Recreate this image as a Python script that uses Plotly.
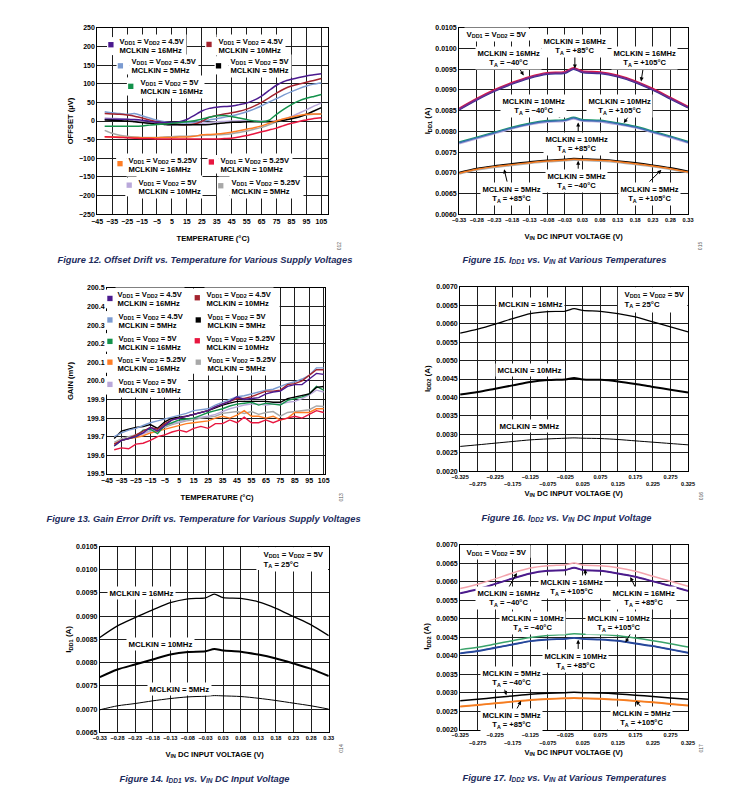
import plotly.graph_objects as go

W, H = 750, 809          # page size
PAD = 8                  # default body margin of the html page
FW, FH = W - 2 * PAD, H - 2 * PAD
FONT = "Liberation Sans, Arial, sans-serif"
NAVY = "#1c2b5c"

# ------------------------------------------------------------------ DATA
temp_c = [-40, -35, -30, -25, -20, -15, -10, -5, 0, 5, 10, 15, 20, 25, 30,
          35, 40, 45, 50, 55, 60, 65, 70, 75, 80, 85, 90, 95, 100, 105]
temp_ticks = [-45, -35, -25, -15, -5, 5, 15, 25, 35, 45, 55, 65, 75, 85, 95, 105]

# Figure 12 : offset (uV)
off_45_16 = [5, 5, 5, 5, 4, 2, -1, -3, -4, -4, -2, 4, 15, 27, 34, 37, 39, 40, 44, 48, 56, 67, 82, 96, 106, 112, 117, 121, 124, 127]
off_45_10 = [20, 19, 18, 16, 13, 8, 3, -2, -5, -7, -9, -10, -8, -1, 10, 15, 19, 22, 26, 32, 40, 50, 62, 75, 86, 94, 99, 104, 109, 114]
off_45_5 = [25, 22, 20, 18, 20, 14, 8, 2, -2, -5, -5, -5, -3, -1, 3, 6, 10, 14, 19, 25, 32, 41, 51, 60, 70, 79, 87, 94, 99, 102]
off_5_5 = [3, 2, 1, 0, -2, -4, -6, -8, -9, -10, -10, -10, -10, -10, -9, -7, -5, -3, -3, -2, -2, -2, -2, -1, 2, 6, 11, 18, 27, 36]
off_5_16 = [-14, -14, -14, -14, -14, -13, -11, -9, -8, -6, -4, -2, 1, 5, 10, 14, 15, 12, 8, 4, 0, -2, 2, 18, 32, 44, 54, 61, 66, 71]
off_5_10 = [8, 7, 6, 5, 2, -2, -5, -8, -9, -10, -10, -9, -8, -6, -4, -2, -1, 0, 1, 1, 1, 0, 0, 1, 5, 12, 21, 30, 40, 48]
off_525_5 = [-25, -33, -38, -41, -43, -44, -44, -44, -43, -42, -41, -41, -40, -39, -38, -37, -36, -34, -31, -27, -22, -17, -10, -3, 3, 8, 13, 16, 18, 19]
off_525_16 = [-42, -43, -43, -44, -44, -45, -45, -45, -44, -44, -43, -43, -41, -37, -36, -35, -33, -30, -26, -22, -18, -13, -6, 0, 6, 11, 15, 18, 19, 19]
off_525_10 = [-42, -43, -44, -45, -46, -47, -47, -48, -48, -48, -48, -48, -48, -48, -48, -48, -47, -46, -43, -39, -34, -29, -24, -19, -12, -6, -1, 3, 7, 9]

# Figure 13 : gain (mV)
gain_45_16 = [199.65, 199.68, 199.69, 199.70, 199.72, 199.75, 199.73, 199.76, 199.79, 199.80, 199.81, 199.82, 199.83, 199.84, 199.86, 199.875, 199.89, 199.915, 199.90, 199.905, 199.91, 199.93, 199.94, 199.945, 199.97, 199.98, 199.98, 200.01, 200.04, 200.035]
gain_45_10 = [199.66, 199.68, 199.69, 199.71, 199.73, 199.75, 199.74, 199.77, 199.79, 199.80, 199.81, 199.82, 199.83, 199.84, 199.86, 199.875, 199.89, 199.905, 199.905, 199.915, 199.93, 199.945, 199.945, 199.95, 199.98, 199.985, 200.00, 200.03, 200.06, 200.06]
gain_45_5 = [199.70, 199.72, 199.735, 199.745, 199.76, 199.775, 199.785, 199.795, 199.805, 199.815, 199.825, 199.84, 199.845, 199.85, 199.87, 199.885, 199.90, 199.915, 199.92, 199.93, 199.94, 199.95, 199.955, 199.97, 199.985, 199.995, 200.01, 200.03, 200.07, 200.07]
gain_5_5 = [199.69, 199.73, 199.74, 199.75, 199.755, 199.765, 199.745, 199.78, 199.80, 199.805, 199.81, 199.82, 199.83, 199.84, 199.855, 199.87, 199.88, 199.89, 199.89, 199.89, 199.89, 199.89, 199.885, 199.885, 199.905, 199.914, 199.92, 199.93, 199.965, 199.97]
gain_5_16 = [199.65, 199.68, 199.69, 199.70, 199.735, 199.74, 199.717, 199.76, 199.775, 199.79, 199.795, 199.80, 199.815, 199.83, 199.84, 199.85, 199.865, 199.875, 199.88, 199.885, 199.87, 199.88, 199.875, 199.87, 199.895, 199.905, 199.914, 199.93, 199.97, 199.95]
gain_5_10 = [199.66, 199.68, 199.69, 199.70, 199.715, 199.73, 199.745, 199.76, 199.77, 199.78, 199.79, 199.80, 199.805, 199.81, 199.82, 199.835, 199.85, 199.86, 199.87, 199.875, 199.875, 199.87, 199.875, 199.875, 199.885, 199.89, 199.905, 199.925, 199.95, 199.94]
gain_525_16 = [199.66, 199.68, 199.69, 199.695, 199.705, 199.72, 199.73, 199.74, 199.75, 199.76, 199.77, 199.775, 199.78, 199.785, 199.80, 199.81, 199.80, 199.816, 199.84, 199.81, 199.81, 199.80, 199.81, 199.79, 199.80, 199.83, 199.83, 199.83, 199.85, 199.85]
gain_525_5 = [199.67, 199.69, 199.70, 199.71, 199.72, 199.73, 199.74, 199.75, 199.765, 199.775, 199.785, 199.79, 199.80, 199.805, 199.81, 199.825, 199.83, 199.835, 199.825, 199.835, 199.82, 199.83, 199.835, 199.81, 199.83, 199.835, 199.84, 199.845, 199.865, 199.862]
gain_525_10 = [199.63, 199.64, 199.635, 199.66, 199.665, 199.68, 199.70, 199.71, 199.725, 199.735, 199.725, 199.745, 199.755, 199.745, 199.77, 199.77, 199.79, 199.775, 199.805, 199.775, 199.775, 199.79, 199.775, 199.79, 199.80, 199.81, 199.80, 199.82, 199.84, 199.83]

# Input-voltage sweeps
vin_a = [-0.33, -0.2792, -0.2285, -0.1777, -0.1269, -0.0762, -0.0254, 0.0, 0.0254, 0.0762, 0.1269, 0.1777, 0.2285, 0.2792, 0.33]
vin_a_ticks = [-0.33, -0.2792, -0.2285, -0.1777, -0.1269, -0.0762, -0.0254, 0.0254, 0.0762, 0.1269, 0.1777, 0.2285, 0.2792, 0.33]
vin_a_labels = ["−0.33", "−0.28", "−0.23", "−0.18", "−0.13", "−0.08", "−0.03", "0.03", "0.08", "0.13", "0.18", "0.23", "0.28", "0.33"]
vin_b = [-0.325, -0.275, -0.225, -0.175, -0.125, -0.075, -0.025, 0.0, 0.025, 0.075, 0.125, 0.175, 0.225, 0.275, 0.325]
vin_b_ticks = [-0.325, -0.275, -0.225, -0.175, -0.125, -0.075, -0.025, 0.025, 0.075, 0.125, 0.175, 0.225, 0.275, 0.325]
vin_b_labels = ["−0.325", "−0.275", "−0.225", "−0.175", "−0.125", "−0.075", "−0.025", "0.025", "0.075", "0.125", "0.175", "0.225", "0.275", "0.325"]

# Figure 15 : IDD1 (A) at temperatures
i1_16_m40 = [0.008560, 0.008796, 0.009005, 0.009179, 0.009323, 0.009419, 0.009443, 0.009538, 0.009459, 0.009435, 0.009355, 0.009220, 0.009036, 0.008820, 0.008605]
i1_16_p85 = [0.008540, 0.008776, 0.008985, 0.009159, 0.009303, 0.009399, 0.009423, 0.009518, 0.009439, 0.009415, 0.009335, 0.009200, 0.009016, 0.008800, 0.008585]
i1_16_p105 = [0.008522, 0.008757, 0.008966, 0.009141, 0.009284, 0.009380, 0.009404, 0.009499, 0.009420, 0.009396, 0.009316, 0.009181, 0.008997, 0.008781, 0.008566]
i1_10_m40 = [0.007741, 0.007862, 0.007981, 0.008101, 0.008196, 0.008261, 0.008284, 0.008340, 0.008287, 0.008268, 0.008205, 0.008124, 0.008006, 0.007885, 0.007758]
i1_10_p85 = [0.007723, 0.007843, 0.007963, 0.008082, 0.008178, 0.008242, 0.008266, 0.008322, 0.008268, 0.008250, 0.008186, 0.008106, 0.007987, 0.007867, 0.007739]
i1_10_p105 = [0.007702, 0.007822, 0.007943, 0.008061, 0.008158, 0.008221, 0.008246, 0.008301, 0.008248, 0.008229, 0.008166, 0.008085, 0.007967, 0.007846, 0.007719]
i1_5_m40 = [0.007007, 0.007104, 0.007167, 0.007216, 0.007263, 0.007304, 0.007327, 0.007344, 0.007335, 0.007319, 0.007287, 0.007240, 0.007183, 0.007119, 0.007039]
i1_5_p85 = [0.006989, 0.007085, 0.007149, 0.007197, 0.007245, 0.007285, 0.007309, 0.007325, 0.007317, 0.007300, 0.007269, 0.007221, 0.007165, 0.007100, 0.007021]
i1_5_p105 = [0.006970, 0.007066, 0.007129, 0.007178, 0.007226, 0.007265, 0.007290, 0.007305, 0.007298, 0.007280, 0.007250, 0.007201, 0.007146, 0.007080, 0.007002]

# Figure 14 : IDD1 (A) at 25 C
i1_16 = [0.008543, 0.008792, 0.008970, 0.009134, 0.009290, 0.009375, 0.009396, 0.009475, 0.009400, 0.009385, 0.009310, 0.009170, 0.008990, 0.008814, 0.008580]
i1_10 = [0.007689, 0.007853, 0.007960, 0.008067, 0.008173, 0.008229, 0.008244, 0.008293, 0.008259, 0.008236, 0.008173, 0.008088, 0.007981, 0.007866, 0.007710]
i1_5 = [0.006984, 0.007070, 0.007119, 0.007177, 0.007226, 0.007262, 0.007277, 0.007290, 0.007284, 0.007270, 0.007233, 0.007184, 0.007127, 0.007070, 0.006999]

# Figure 16 : IDD2 (A) at 25 C
i2_16 = [0.005745, 0.005852, 0.005987, 0.006140, 0.006274, 0.006328, 0.006344, 0.006409, 0.006360, 0.006336, 0.006274, 0.006183, 0.006048, 0.005914, 0.005780]
i2_10 = [0.004078, 0.004150, 0.004239, 0.004328, 0.004419, 0.004473, 0.004489, 0.004527, 0.004489, 0.004480, 0.004435, 0.004366, 0.004285, 0.004212, 0.004132]
i2_5 = [0.002672, 0.002715, 0.002761, 0.002806, 0.002850, 0.002876, 0.002895, 0.002904, 0.002895, 0.002886, 0.002860, 0.002823, 0.002787, 0.002751, 0.002715]

# Figure 17 : IDD2 (A) at temperatures
i2_16_m40 = [0.005812, 0.005930, 0.006072, 0.006233, 0.006366, 0.006428, 0.006455, 0.006500, 0.006446, 0.006428, 0.006375, 0.006278, 0.006144, 0.006010, 0.005876]
i2_16_p85 = [0.005678, 0.005785, 0.005930, 0.006080, 0.006214, 0.006286, 0.006305, 0.006366, 0.006305, 0.006286, 0.006214, 0.006125, 0.006000, 0.005876, 0.005742]
i2_16_p105 = [0.005690, 0.005797, 0.005942, 0.006092, 0.006226, 0.006298, 0.006317, 0.006378, 0.006317, 0.006298, 0.006226, 0.006137, 0.006012, 0.005888, 0.005754]
i2_10_m40 = [0.004161, 0.004223, 0.004312, 0.004403, 0.004491, 0.004545, 0.004572, 0.004590, 0.004580, 0.004572, 0.004536, 0.004473, 0.004403, 0.004322, 0.004232]
i2_10_p85 = [0.004054, 0.004116, 0.004205, 0.004295, 0.004384, 0.004430, 0.004446, 0.004473, 0.004446, 0.004430, 0.004393, 0.004322, 0.004250, 0.004161, 0.004071]
i2_10_p105 = [0.004066, 0.004128, 0.004217, 0.004307, 0.004396, 0.004442, 0.004458, 0.004485, 0.004458, 0.004442, 0.004405, 0.004334, 0.004262, 0.004173, 0.004083]
i2_5_m40 = [0.002777, 0.002822, 0.002865, 0.002911, 0.002956, 0.002983, 0.002999, 0.003008, 0.002999, 0.002990, 0.002965, 0.002930, 0.002893, 0.002857, 0.002822]
i2_5_p85 = [0.002616, 0.002661, 0.002705, 0.002750, 0.002795, 0.002822, 0.002839, 0.002848, 0.002839, 0.002830, 0.002804, 0.002768, 0.002732, 0.002688, 0.002643]
i2_5_p105 = [0.002628, 0.002673, 0.002717, 0.002762, 0.002807, 0.002834, 0.002851, 0.002860, 0.002851, 0.002842, 0.002816, 0.002780, 0.002744, 0.002700, 0.002655]

# ------------------------------------------------------------------ STYLE
C_PURPLE = "#4b1a8f"
C_DRED = "#a3232e"
C_LBLUE = "#7b9bd1"
C_BLACK = "#000000"
C_GREEN = "#13924b"
C_ORANGE = "#ff7d24"
C_RED = "#e8163f"
C_LAV = "#b9a8da"
C_GRAY = "#a8a8a8"

# pixel boxes (left, right, top, bottom) of the six plot areas, page coords
BOX = {
    1: (90, 326, 24, 212),           # fig 12
    2: (460, 694, 24, 212),          # fig 15
    3: (100, 323, 286.3, 474),       # fig 13
    4: (461, 694, 285.3, 471.3),     # fig 16
    5: (92.7, 326.7, 547.3, 734.7),  # fig 14
    6: (461, 694, 545.3, 732),       # fig 17
}


def X(p):
    return (p - PAD) / FW


def Y(p):
    return 1 - (p - PAD) / FH


def an(n):
    return "" if n == 1 else str(n)


def bfont(size, color="black", family=FONT):
    return dict(family=family, size=size, color=color, weight="bold")


fig = go.Figure()
SH_WHITE, SH_SQ, L_ARROW, L_TEXT = [], [], [], []


def axis_pair(n, xr, yr, xkw, ykw):
    L, R, T, B = BOX[n]
    common = dict(showline=True, mirror=True, linecolor="black", linewidth=1,
                  showgrid=True, gridcolor="#1e1e1e", gridwidth=1, ticks="",
                  zeroline=False, fixedrange=True)
    xa = dict(common, domain=[X(L), X(R)], range=xr, anchor="y" + an(n), **xkw)
    ya = dict(common, domain=[Y(B), Y(T)], range=yr, anchor="x" + an(n), **ykw)
    fig.layout["xaxis" + an(n)] = xa
    fig.layout["yaxis" + an(n)] = ya


def line(n, x, y, color, width=1.5, shape="linear", smooth=1.0):
    kw = dict(shape=shape)
    if shape == "spline":
        kw["smoothing"] = smooth
    fig.add_trace(go.Scatter(x=x, y=y, mode="lines", xaxis="x" + an(n), yaxis="y" + an(n),
                             line=dict(color=color, width=width, **kw), hoverinfo="skip"))


def block(x0, x1, y0, y1, color="white", dest=None):
    (SH_WHITE if dest is None else dest).append(
        dict(type="rect", xref="paper", yref="paper", x0=X(x0), x1=X(x1), y0=Y(y1), y1=Y(y0),
             fillcolor=color, line=dict(width=0), layer="above"))


def text(t, x, y, size=7.8, xanchor="left", bg=True, color="black", angle=0, align="left"):
    d = dict(text=t, x=X(x), y=Y(y), xref="paper", yref="paper", xanchor=xanchor,
             yanchor="middle", showarrow=False, font=bfont(size, color),
             borderpad=1.5, textangle=angle, align=align)
    if bg:
        d["bgcolor"] = "white"
    L_TEXT.append(d)


def legend_entry(sqx, sqy, color, tx, y1, y2, volt, clk, size=7.6):
    block(sqx - 4, tx + 1, y1 - 5, y2 + 5)
    block(sqx - 2.7, sqx + 2.7, sqy - 2.7, sqy + 2.7, color, SH_SQ)
    text("V<sub>DD1</sub> = V<sub>DD2</sub> = " + volt + "<br>MCLKIN = " + clk,
         tx, (y1 + y2) / 2 + 0.3, size)


def label2(cx, y1, y2, l1, l2, size=7.6):
    text(l1 + "<br>" + l2, cx, (y1 + y2) / 2 + 0.3, size, xanchor="center", align="center")


def arrow(tx, ty, hx, hy):
    L_ARROW.append(dict(text="", x=X(hx), y=Y(hy), xref="paper", yref="paper",
                        ax=tx - hx, ay=ty - hy, axref="pixel", ayref="pixel",
                        showarrow=True, arrowhead=2, arrowsize=0.8, arrowwidth=1,
                        arrowcolor="black", standoff=0, startstandoff=0))


TICK_Y = bfont(7)
TICK_XS = bfont(5.6)

# ------------------------------------------------------------------ FIG 12
axis_pair(1, [-45, 109.5], [-250, 250],
          dict(tickmode="array", tickvals=temp_ticks, tickfont=bfont(7), tickangle=0),
          dict(tickmode="array", tickvals=[-250, -200, -150, -100, -50, 0, 50, 100, 150, 200, 250], tickfont=TICK_Y))
for ys, c in [(off_525_5, C_GRAY), (off_5_10, C_LAV), (off_45_5, C_LBLUE), (off_45_10, C_DRED),
              (off_45_16, C_PURPLE), (off_5_5, C_BLACK), (off_5_16, C_GREEN),
              (off_525_16, C_ORANGE), (off_525_10, C_RED)]:
    line(1, temp_c, ys, c, 1.5, "spline", 0.6)
legend_entry(104, 41, C_PURPLE, 110.7, 38.3, 46.5, "4.5V", "16MHz")
legend_entry(204.3, 40.7, C_DRED, 211.7, 38.3, 46.5, "4.5V", "10MHz")
legend_entry(113.7, 62.3, C_LBLUE, 122.3, 57.7, 66, "4.5V", "5MHz")
legend_entry(214, 62.3, C_BLACK, 223.3, 57.7, 66, "5V", "5MHz")
legend_entry(124.3, 83, C_GREEN, 132, 79, 87.3, "5V", "16MHz")
legend_entry(113.3, 161, C_ORANGE, 119.3, 157.3, 166, "5.25V", "16MHz")
legend_entry(206.7, 159.3, C_RED, 213.3, 157.3, 166, "5.25V", "10MHz")
legend_entry(122.7, 182.7, C_LAV, 130, 180, 189, "5V", "10MHz")
legend_entry(216.3, 183.3, C_GRAY, 224.3, 180, 189, "5.25V", "5MHz")
text("OFFSET (µV)", 63, 118, 7.6, xanchor="center", bg=False, angle=-90)
text("TEMPERATURE (°C)", 208, 236, 7.6, xanchor="center", bg=False)

# ------------------------------------------------------------------ FIG 13
axis_pair(3, [-45, 106], [199.5, 200.5],
          dict(tickmode="array", tickvals=temp_ticks, tickfont=bfont(7), tickangle=0),
          dict(tickmode="array", tickvals=[199.5, 199.6, 199.7, 199.8, 199.9, 200.0, 200.1, 200.2, 200.3, 200.4, 200.5],
               tickformat=".1f", tickfont=TICK_Y))
block(100.8, 276.5, 287, 373)
block(100.8, 183, 372, 394)
for ys, c in [(gain_525_5, C_GRAY), (gain_5_10, C_LAV), (gain_525_16, C_ORANGE), (gain_525_10, C_RED),
              (gain_5_16, C_GREEN), (gain_5_5, C_BLACK), (gain_45_5, C_LBLUE),
              (gain_45_10, C_DRED), (gain_45_16, C_PURPLE)]:
    line(3, temp_c, ys, c, 1.4)
legend_entry(103, 297, C_PURPLE, 108.3, 293, 302, "4.5V", "16MHz")
legend_entry(192.3, 296.3, C_DRED, 199, 293, 302, "4.5V", "10MHz")
legend_entry(103, 318.7, C_LBLUE, 109.3, 314.7, 323.7, "4.5V", "5MHz")
legend_entry(193.3, 318.7, C_BLACK, 200.7, 314.7, 323.7, "5V", "5MHz")
legend_entry(103, 340.3, C_GREEN, 109.3, 337, 345.7, "5V", "16MHz")
legend_entry(192.3, 339.7, C_RED, 199, 337, 345.7, "5.25V", "10MHz")
legend_entry(103, 361.3, C_ORANGE, 107.8, 358, 367, "5.25V", "16MHz")
legend_entry(193.3, 361.3, C_GRAY, 200, 358, 367, "5.25V", "5MHz")
legend_entry(103, 383.7, C_LAV, 109, 380.3, 389, "5V", "10MHz")
text("GAIN (mV)", 62, 380, 7.6, xanchor="center", bg=False, angle=-90)
text("TEMPERATURE (°C)", 212, 497, 7.6, xanchor="center", bg=False)

# ------------------------------------------------------------------ FIG 15
y15 = [0.0060, 0.0065, 0.0070, 0.0075, 0.0080, 0.0085, 0.0090, 0.0095, 0.0100, 0.0105]
axis_pair(2, [-0.33, 0.33], [0.0060, 0.0105],
          dict(tickmode="array", tickvals=vin_a_ticks, ticktext=vin_a_labels, tickfont=TICK_XS, tickangle=0),
          dict(tickmode="array", tickvals=y15, tickformat=".4f", tickfont=TICK_Y))
block(460.8, 540, 24.8, 36.7)
for ys, c in [(i1_16_p105, "#2e3192"), (i1_16_m40, "#e3173e"), (i1_16_p85, "#7a2a8c"),
              (i1_10_p105, "#b7a9dc"), (i1_10_m40, "#1b9a6a"), (i1_10_p85, "#3b6db3"),
              (i1_5_p105, "#b0b0b0"), (i1_5_m40, "#000000"), (i1_5_p85, "#f47b20")]:
    line(2, vin_a, ys, c, 1.5, "spline", 0.8)
text("V<sub>DD1</sub> = V<sub>DD2</sub> = 5V", 465, 30.7)
label2(578.3, 38.3, 46.5, "MCLKIN = 16MHz", "T<sub>A</sub> = +85°C")
arrow(578.3, 52, 578.3, 65)
label2(510, 50, 58.3, "MCLKIN = 16MHz", "T<sub>A</sub> = −40°C")
arrow(521, 64, 526, 72)
label2(649.3, 50, 58.3, "MCLKIN = 16MHz", "T<sub>A</sub> = +105°C")
arrow(648, 65, 646, 78)
label2(536, 98.3, 106.7, "MCLKIN = 10MHz", "T<sub>A</sub> = −40°C")
arrow(556.7, 106, 563.3, 115)
label2(624, 98.3, 106.7, "MCLKIN = 10MHz", "T<sub>A</sub> = +105°C")
arrow(633.3, 113, 628.3, 120)
label2(580, 136.7, 145, "MCLKIN = 10MHz", "T<sub>A</sub> = +85°C")
arrow(581.7, 130, 581.7, 119.5)
label2(580, 174, 182.7, "MCLKIN = 5MHz", "T<sub>A</sub> = −40°C")
arrow(581.7, 167.5, 581.7, 158)
label2(513.3, 186.7, 195, "MCLKIN = 5MHz", "T<sub>A</sub> = +85°C")
arrow(509.3, 180.5, 506, 166.7)
label2(655, 186.7, 195, "MCLKIN = 5MHz", "T<sub>A</sub> = +105°C")
arrow(653.3, 180.5, 666.7, 167.3)
text("I<sub>DD1</sub> (A)", 428, 118, 8, xanchor="center", bg=False, angle=-90)
text("V<sub>IN</sub> DC INPUT VOLTAGE (V)", 577, 234, 7.6, xanchor="center", bg=False)

# ------------------------------------------------------------------ FIG 16
y16 = [0.0020, 0.0025, 0.0030, 0.0035, 0.0040, 0.0045, 0.0050, 0.0055, 0.0060, 0.0065, 0.0070]
stag = [t if i % 2 == 0 else "<br>" + t for i, t in enumerate(vin_b_labels)]
axis_pair(4, [-0.325, 0.325], [0.0020, 0.0070],
          dict(tickmode="array", tickvals=vin_b_ticks, ticktext=stag, tickfont=TICK_XS, tickangle=0),
          dict(tickmode="array", tickvals=y16, tickformat=".4f", tickfont=TICK_Y))
block(622.3, 693.3, 286, 311.3)
line(4, vin_b, i2_16, "black", 1.3, "spline", 0.8)
line(4, vin_b, i2_10, "black", 2.0, "spline", 0.8)
line(4, vin_b, i2_5, "black", 1.0, "spline", 0.8)
text("V<sub>DD1</sub> = V<sub>DD2</sub> = 5V<br>T<sub>A</sub> = 25°C", 626.7, 297.8)
text("MCLKIN = 16MHz", 533.3, 302.3, xanchor="center")
text("MCLKIN = 10MHz", 532.3, 369, xanchor="center")
text("MCLKIN = 5MHz", 531.7, 425.7, xanchor="center")
text("I<sub>DD2</sub> (A)", 428, 378, 8, xanchor="center", bg=False, angle=-90)
text("V<sub>IN</sub> DC INPUT VOLTAGE (V)", 577, 494, 7.6, xanchor="center", bg=False)

# ------------------------------------------------------------------ FIG 14
y14 = [0.0065, 0.0070, 0.0075, 0.0080, 0.0085, 0.0090, 0.0095, 0.0100, 0.0105]
axis_pair(5, [-0.33, 0.33], [0.0065, 0.0105],
          dict(tickmode="array", tickvals=vin_a_ticks, ticktext=vin_a_labels, tickfont=TICK_XS, tickangle=0),
          dict(tickmode="array", tickvals=y14, tickformat=".4f", tickfont=TICK_Y))
block(252.7, 326, 548, 571)
line(5, vin_a, i1_16, "black", 1.3, "spline", 0.8)
line(5, vin_a, i1_10, "black", 2.0, "spline", 0.8)
line(5, vin_a, i1_5, "black", 1.0, "spline", 0.8)
text("V<sub>DD1</sub> = V<sub>DD2</sub> = 5V<br>T<sub>A</sub> = 25°C", 257.7, 560)
text("MCLKIN = 16MHz", 135, 594, xanchor="center")
text("MCLKIN = 10MHz", 155, 645.3, xanchor="center")
text("MCLKIN = 5MHz", 174.3, 691.3, xanchor="center")
text("I<sub>DD1</sub> (A)", 61, 641, 8, xanchor="center", bg=False, angle=-90)
text("V<sub>IN</sub> DC INPUT VOLTAGE (V)", 210, 757, 7.6, xanchor="center", bg=False)

# ------------------------------------------------------------------ FIG 17
axis_pair(6, [-0.325, 0.325], [0.0020, 0.0070],
          dict(tickmode="array", tickvals=vin_b_ticks, ticktext=stag, tickfont=TICK_XS, tickangle=0),
          dict(tickmode="array", tickvals=y16, tickformat=".4f", tickfont=TICK_Y))
block(461.8, 533, 546, 558.7)
for ys, c in [(i2_16_m40, "#f3a4ad"), (i2_16_p105, "#5a2a9a"), (i2_16_p85, "#4a1a8a"),
              (i2_10_m40, "#3aa36a"), (i2_10_p105, "#2c4fa0"), (i2_10_p85, "#26469a"),
              (i2_5_m40, "#000000"), (i2_5_p105, "#f78a35"), (i2_5_p85, "#f57c20")]:
    line(6, vin_b, ys, c, 1.5, "spline", 0.8)
text("V<sub>DD1</sub> = V<sub>DD2</sub> = 5V", 465, 553)
label2(575, 584, 592.3, "MCLKIN = 16MHz", "T<sub>A</sub> = +105°C")
arrow(589.3, 578, 588.7, 570.3)
label2(510, 595.3, 603.5, "MCLKIN = 16MHz", "T<sub>A</sub> = −40°C")
arrow(510, 590, 519, 574)
label2(648.3, 595.3, 603.5, "MCLKIN = 16MHz", "T<sub>A</sub> = +85°C")
arrow(640.7, 590, 635, 578)
label2(535, 619.7, 628, "MCLKIN = 10MHz", "T<sub>A</sub> = −40°C")
arrow(556.7, 630.5, 564, 635.3)
label2(623.3, 619.7, 628, "MCLKIN = 10MHz", "T<sub>A</sub> = +105°C")
arrow(636.7, 632.5, 630, 644)
label2(579.3, 658, 666.3, "MCLKIN = 10MHz", "T<sub>A</sub> = +85°C")
arrow(581.7, 652, 581.7, 641.3)
label2(513.3, 675.7, 684, "MCLKIN = 5MHz", "T<sub>A</sub> = −40°C")
arrow(506, 690, 508.3, 697.3)
label2(513.3, 718, 726, "MCLKIN = 5MHz", "T<sub>A</sub> = +85°C")
arrow(518.3, 712.5, 523.3, 703)
label2(646.7, 715.7, 724, "MCLKIN = 5MHz", "T<sub>A</sub> = +105°C")
arrow(646.7, 710, 640.7, 703)
text("I<sub>DD2</sub> (A)", 427, 638, 8, xanchor="center", bg=False, angle=-90)
text("V<sub>IN</sub> DC INPUT VOLTAGE (V)", 577, 755, 7.6, xanchor="center", bg=False)

# ------------------------------------------------------------------ CAPTIONS
caps = [
    ("Figure 12. Offset Drift vs. Temperature for Various Supply Voltages", 200, 258),
    ("Figure 15. I<sub>DD1</sub> vs. V<sub>IN</sub> at Various Temperatures", 568, 258),
    ("Figure 13. Gain Error Drift vs. Temperature for Various Supply Voltages", 199, 519),
    ("Figure 16. I<sub>DD2</sub> vs. V<sub>IN</sub> DC Input Voltage", 570, 519),
    ("Figure 14. I<sub>DD1</sub> vs. V<sub>IN</sub> DC Input Voltage", 200, 782),
    ("Figure 17. I<sub>DD2</sub> vs. V<sub>IN</sub> at Various Temperatures", 568, 781),
]
for t, x, y in caps:
    text("<i>" + t + "</i>", x, y, 9.3, xanchor="center", bg=False, color=NAVY)

for t, x, y in [("012", 338, 237), ("015", 712, 237), ("013", 339, 497),
                ("016", 712, 496), ("014", 339, 757), ("017", 712, 757)]:
    L_TEXT.append(dict(text=t, x=X(x), y=Y(y), xref="paper", yref="paper", showarrow=False,
                       textangle=-90, font=dict(family=FONT, size=5, color="#555555")))

fig.update_layout(width=FW, height=FH, autosize=False, margin=dict(l=0, r=0, t=0, b=0),
                  paper_bgcolor="white", plot_bgcolor="white", showlegend=False,
                  shapes=SH_WHITE + SH_SQ, annotations=L_ARROW + L_TEXT, font=dict(family=FONT))
fig.write_html("out.html")
